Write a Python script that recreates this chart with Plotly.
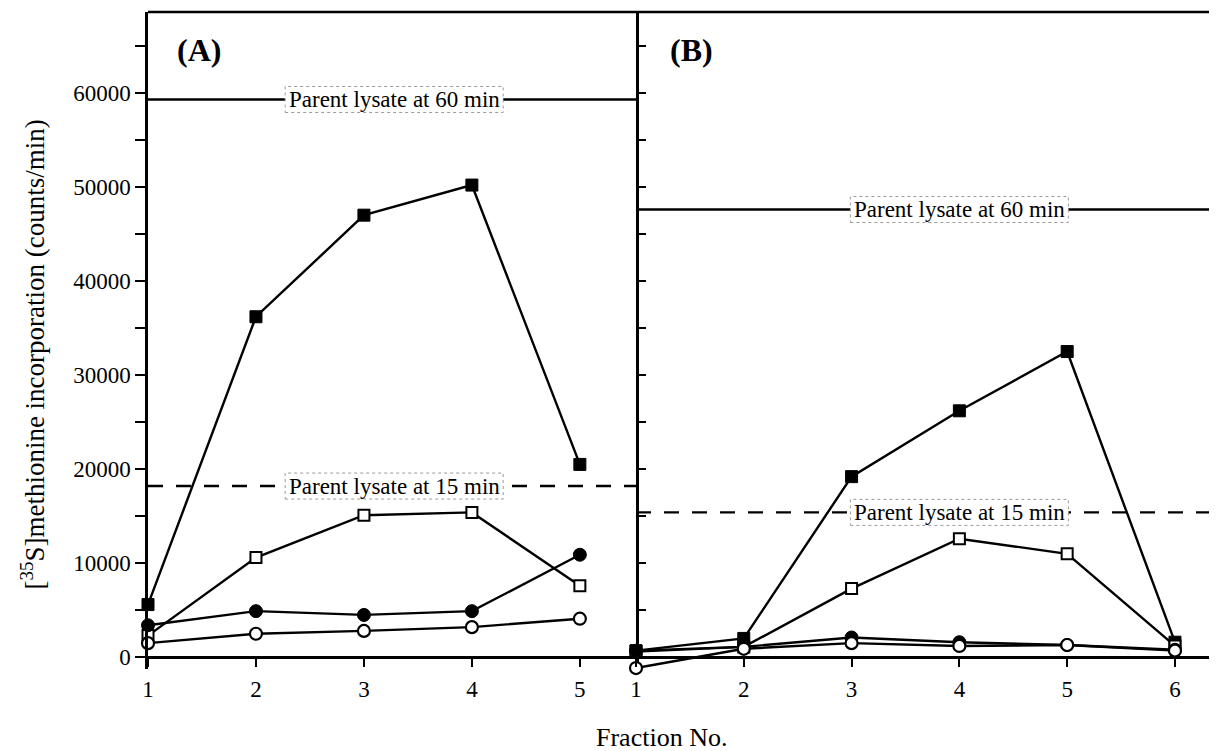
import plotly.graph_objects as go

# ---------------- data ----------------
fractions_a = [1, 2, 3, 4, 5]
fractions_b = [1, 2, 3, 4, 5, 6]

# Panel A
a_filled_square = [5600, 36200, 47000, 50200, 20500]
a_open_square = [2300, 10600, 15100, 15400, 7600]
a_filled_circle = [3400, 4900, 4500, 4900, 10900]
a_open_circle = [1500, 2500, 2800, 3200, 4100]

# Panel B
b_filled_square = [700, 2000, 19200, 26200, 32500, 1600]
b_open_square = [600, 1100, 7300, 12600, 11000, 1200]
b_filled_circle = [700, 1100, 2100, 1600, 1300, 800]
b_open_circle = [-1150, 900, 1500, 1200, 1300, 700]

ref_labels = ["Parent lysate at 60 min", "Parent lysate at 15 min"]
a_ref_values = [59300, 18200]
b_ref_values = [47600, 15400]

y_ticks = [0, 10000, 20000, 30000, 40000, 50000, 60000]
y_tick_text = [str(v) for v in y_ticks]

FONT = "Liberation Serif"
Y_MIN, Y_MAX = -1250, 68600

fig = go.Figure()

series_styles = [
    dict(symbol="square", size=12, color="black", line=dict(color="black", width=1)),
    dict(symbol="square", size=11, color="white", line=dict(color="black", width=2)),
    dict(symbol="circle", size=13, color="black", line=dict(color="black", width=1)),
    dict(symbol="circle", size=12, color="white", line=dict(color="black", width=2.2)),
]

a_series = [a_filled_square, a_open_square, a_filled_circle, a_open_circle]
b_series = [b_filled_square, b_open_square, b_filled_circle, b_open_circle]

for vals, st in zip(a_series, series_styles):
    fig.add_trace(go.Scatter(x=fractions_a, y=vals, mode="lines+markers",
                             line=dict(color="black", width=2.4), marker=st,
                             cliponaxis=False, showlegend=False,
                             xaxis="x", yaxis="y"))
for vals, st in zip(b_series, series_styles):
    fig.add_trace(go.Scatter(x=fractions_b, y=vals, mode="lines+markers",
                             line=dict(color="black", width=2.4), marker=st,
                             cliponaxis=False, showlegend=False,
                             xaxis="x2", yaxis="y2"))

shapes = [
    # top border of the frame
    dict(type="line", xref="paper", yref="paper", x0=0, x1=1, y0=1, y1=1,
         line=dict(color="black", width=2.5)),
]
annotations = []
panels = [("x", "y", a_ref_values, 3.28), ("x2", "y2", b_ref_values, 4.0)]
for xr, yr, vals, xc in panels:
    for i, (lab, v) in enumerate(zip(ref_labels, vals)):
        shapes.append(dict(type="line", xref=xr + " domain", yref=yr,
                           x0=0, x1=1, y0=v, y1=v, layer="below",
                           line=dict(color="black", width=2.4,
                                     dash="solid" if i == 0 else "15px,13px")))
        shapes.append(dict(type="rect", xref=xr, yref=yr, xsizemode="pixel",
                           ysizemode="pixel", xanchor=xc, yanchor=v,
                           x0=-109, x1=109, y0=-13, y1=13,
                           fillcolor="white", layer="above",
                           line=dict(color="#9a9a9a", width=1, dash="dot")))
        annotations.append(dict(xref=xr, yref=yr, x=xc, y=v, text=lab,
                                showarrow=False, xanchor="center", yanchor="middle",
                                font=dict(family=FONT, size=23, color="black")))

annotations += [
    dict(xref="paper", yref="paper", x=0.025, y=0.942, text="<b>(A)</b>",
         showarrow=False, xanchor="left", yanchor="middle",
         font=dict(family=FONT, size=32, color="black")),
    dict(xref="paper", yref="paper", x=0.486, y=0.942, text="<b>(B)</b>",
         showarrow=False, xanchor="left", yanchor="middle",
         font=dict(family=FONT, size=32, color="black")),
    dict(xref="paper", yref="paper", x=0.48, y=-0.104, text="Fraction No.",
         showarrow=False, xanchor="center", yanchor="middle",
         font=dict(family=FONT, size=26, color="black")),
    dict(xref="paper", yref="paper", x=-0.108, y=0.478,
         text="[<sup>35</sup>S]methionine incorporation (counts/min)",
         showarrow=False, xanchor="center", yanchor="middle", textangle=-90,
         font=dict(family=FONT, size=27, color="black")),
]

split = (636 - 148) / (1217 - 148)
zero_pos = (0 - Y_MIN) / (Y_MAX - Y_MIN)

axis_common = dict(showgrid=False, zeroline=False, automargin=False,
                   linecolor="black", linewidth=2.5,
                   tickfont=dict(family=FONT, size=23, color="black"),
                   tickcolor="black", tickwidth=2)

# the page body adds an 8px offset, so the figure is 8px smaller on each axis
fig.update_layout(
    template=None,
    width=1209, height=743,
    margin=dict(l=140, r=0, t=4, b=82, pad=0),
    paper_bgcolor="white", plot_bgcolor="white",
    shapes=shapes, annotations=annotations,
    xaxis=dict(domain=[0, split], range=[1, 5.52], tickvals=fractions_a,
               ticks="outside", ticklen=8, showline=True,
               anchor="free", position=zero_pos,
               ticklabelstandoff=2, **axis_common),
    xaxis2=dict(domain=[split, 1], range=[1, 6.39], tickvals=fractions_b,
                ticks="outside", ticklen=8, showline=True,
                anchor="free", position=zero_pos,
                ticklabelstandoff=2, **axis_common),
    yaxis=dict(domain=[0, 1], range=[Y_MIN, Y_MAX], tickvals=y_ticks,
               ticktext=y_tick_text, ticks="outside", ticklen=10,
               showline=True, mirror=True, anchor="x",
               minor=dict(dtick=5000, tick0=0, ticks="outside", ticklen=10,
                          tickwidth=2, tickcolor="black"),
               **axis_common),
    yaxis2=dict(domain=[0, 1], range=[Y_MIN, Y_MAX], tickvals=y_ticks,
                ticks="inside", ticklen=10, showline=False,
                showticklabels=False, anchor="x2",
                minor=dict(dtick=5000, tick0=0, ticks="inside", ticklen=10,
                           tickwidth=2, tickcolor="black"),
                **axis_common),
)

fig.write_html("out.html")
